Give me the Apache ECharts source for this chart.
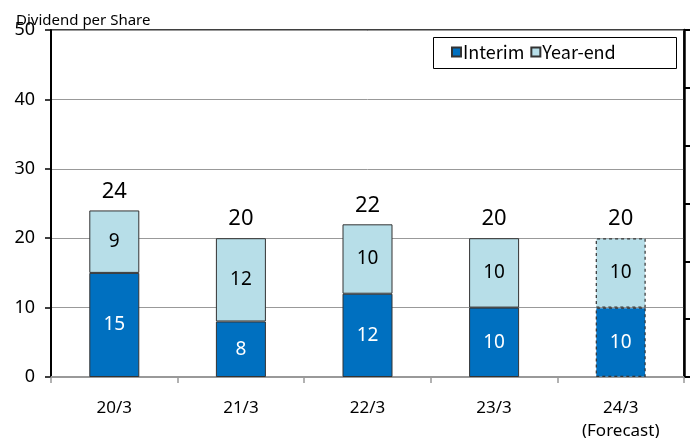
<!DOCTYPE html>
<html><head><meta charset="utf-8">
<script src="https://cdn.jsdelivr.net/npm/echarts@6/dist/echarts.min.js"></script>
<style>html,body{margin:0;padding:0;background:#fff}#c{width:692px;height:438px}</style>
</head><body><div id="c"></div>
<script>
const categories = ['20/3', '21/3', '22/3', '23/3', '24/3\n(Forecast)'];
const interim = [15, 8, 12, 10, 10];
const yearEnd = [9, 12, 10, 10, 10];
const forecastIndex = 4;
const totals = interim.map((v, i) => v + yearEnd[i]);

const FONT = '"Noto Sans", sans-serif';
function styled(arr, color) {
  return arr.map((v, i) => i === forecastIndex
    ? { value: v, itemStyle: { color: color, borderColor: '#333', borderType: [3, 3], borderWidth: 1.2 } }
    : v);
}
const chart = echarts.init(document.getElementById('c'));
chart.setOption({
  animation: false,
  textStyle: { fontFamily: FONT },
  graphic: [
    { type: 'text', left: 16, top: 13, style: { text: 'Dividend per Share', fontSize: 15, fontFamily: FONT, fill: '#000' } },
    { type: 'rect', left: 433, top: 37, shape: { width: 243, height: 31 }, style: { fill: '#fff', stroke: '#000', lineWidth: 1 }, z: 10 }
  ],
  grid: { left: 51, right: 8, top: 30, bottom: 61, show: true, borderColor: '#000', borderWidth: 1.5, outerBoundsMode: 'none', containLabel: false },
  legend: {
    left: 451, top: 43, padding: 0, z: 20,
    itemWidth: 9, itemHeight: 9, itemGap: 6, icon: 'rect',
    textStyle: { fontSize: 18, fontFamily: '"Noto Sans CJK JP", sans-serif', color: '#000', padding: [0, 0, 0, -3] },
    data: ['Interim', 'Year-end']
  },
  xAxis: {
    type: 'category', data: categories,
    axisLine: { lineStyle: { color: '#999', width: 2 } },
    axisTick: { show: true, length: 6, lineStyle: { color: '#999', width: 1.5 } },
    axisLabel: { fontSize: 17, color: '#000', margin: 20, lineHeight: 23, fontFamily: FONT }
  },
  yAxis: [{
    type: 'value', min: 0, max: 50, interval: 10,
    axisLine: { show: true, lineStyle: { color: '#000', width: 2 } },
    axisTick: { show: true, length: 6, lineStyle: { color: '#000', width: 1.5 } },
    axisLabel: { fontSize: 18, color: '#000', margin: 16, fontFamily: FONT },
    splitLine: { lineStyle: { color: '#999', width: 1 } }
  }, {
    type: 'value', min: 0, max: 6, interval: 1, position: 'right',
    axisLine: { show: true, lineStyle: { color: '#000', width: 2.5 } },
    axisTick: { show: true, length: 6, lineStyle: { color: '#000', width: 2 } },
    axisLabel: { show: false }, splitLine: { show: false }
  }],
  series: [{
    name: 'Interim', type: 'bar', stack: 'd', barWidth: 50,
    data: styled(interim, '#0070C0'),
    itemStyle: { color: '#0070C0', borderColor: '#333', borderWidth: 1 },
    label: { show: true, position: 'inside', color: '#fff', fontSize: 19, fontFamily: FONT }
  }, {
    name: 'Year-end', type: 'bar', stack: 'd', barWidth: 50,
    data: styled(yearEnd, '#B7DEE8'),
    itemStyle: { color: '#B7DEE8', borderColor: '#333', borderWidth: 1 },
    label: { show: true, position: 'inside', color: '#000', fontSize: 19, fontFamily: FONT }
  }, {
    name: 'Total', type: 'scatter', data: totals, symbolSize: 0, silent: true, z: 5,
    itemStyle: { color: '#000', opacity: 1 },
    label: { show: true, position: 'top', distance: 8, color: '#000', fontSize: 22, fontFamily: FONT }
  }]
});
</script></body></html>
